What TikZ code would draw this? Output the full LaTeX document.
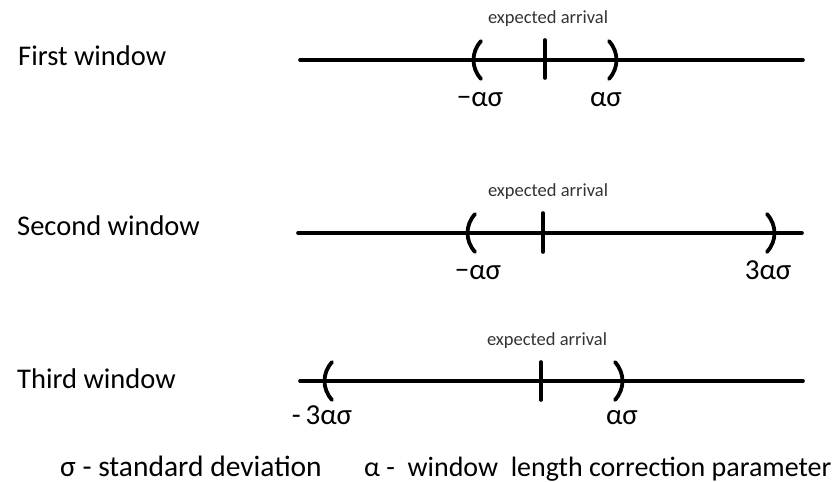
\documentclass[tikz,border=0pt]{standalone}
\usepackage{fontspec}
\setmainfont{Carlito}
\tikzset{
  axis/.style={line width=3.6pt, line cap=round},
  tickmark/.style={line width=3.6pt, line cap=round},
  bracket/.style={line width=3.8pt, line cap=round},
  winlabel/.style={anchor=base west, inner sep=0pt, font=\fontsize{28.5}{32}\selectfont},
  bound/.style={anchor=base, inner sep=0pt, font=\fontsize{29}{33}\selectfont},
  note/.style={anchor=base, inner sep=0pt, font=\fontsize{18.5}{21}\selectfont, text=black!80},
  legend/.style={anchor=base west, inner sep=0pt, font=\fontsize{28}{32}\selectfont},
  lparen/.pic={\draw[bracket] (4,-19) .. controls (-6,-8) and (-6,8) .. (4,19);},
  rparen/.pic={\draw[bracket] (-4,-19) .. controls (6,-8) and (6,8) .. (-4,19);},
}
\begin{document}
\begin{tikzpicture}[x=1pt,y=-1pt]
\useasboundingbox (0,0) rectangle (833,482);

% first window: [-a s, a s]
\node[winlabel] (w1) at (18,65) {First window};
\coordinate (a1) at (300,60);
\coordinate (b1) at (803,60);
\draw[axis] (a1) -- (b1);
\draw[tickmark] (545,40) -- (545,78);
\pic at (477,60) {lparen};
\pic at (613,60) {rparen};
\node[note] (e1) at (548,23) {expected arrival};
\node[bound] (l1) at (480,106) {−ασ};
\node[bound] (r1) at (606,106) {ασ};

% second window: [-a s, 3 a s]
\node[winlabel] (w2) at (17,235) {Second window};
\coordinate (a2) at (298,233);
\coordinate (b2) at (802,233);
\draw[axis] (a2) -- (b2);
\draw[tickmark] (543,213) -- (543,252);
\pic at (471,233) {lparen};
\pic at (771,233) {rparen};
\node[note] (e2) at (548,196) {expected arrival};
\node[bound] (l2) at (478,279) {−ασ};
\node[bound] (r2) at (768,279) {3ασ};

% third window: [-3 a s, a s]
\node[winlabel] (w3) at (17,388) {Third window};
\coordinate (a3) at (300,381);
\coordinate (b3) at (803,381);
\draw[axis] (a3) -- (b3);
\draw[tickmark] (541,362) -- (541,400);
\pic at (328,381) {lparen};
\pic at (619,381) {rparen};
\node[note] (e3) at (547,345) {expected arrival};
\node[bound] (l3) at (322,424) {-\,3ασ};
\node[bound] (r3) at (622,424) {ασ};

% legend
\node[legend, font=\fontsize{29.5}{33}\selectfont] (k1) at (60,476) {σ -\ standard deviation};
\node[legend] (k2) at (364,476) {α -\ \ window\ \ length correction parameter};
\end{tikzpicture}
\end{document}
